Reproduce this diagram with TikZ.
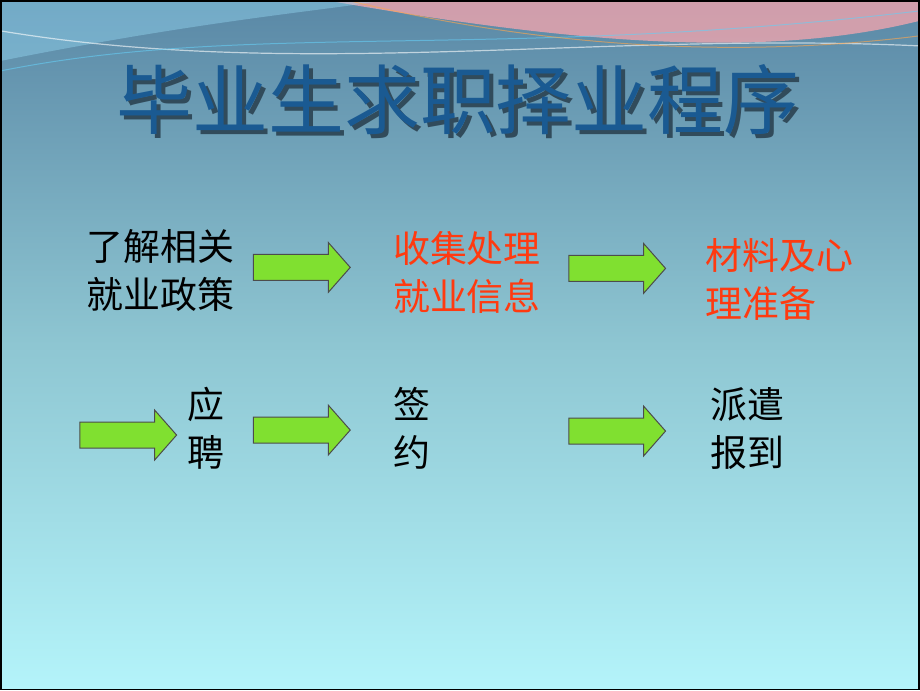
\documentclass[tikz,border=0pt]{standalone}
\usepackage{fontspec}
\newfontfamily\cjk{Noto Sans CJK SC}
\definecolor{titleblue}{HTML}{1A5A92}
\definecolor{steptext}{HTML}{FF3A10}
\definecolor{arrowgreen}{HTML}{80E030}
\definecolor{bgtop}{HTML}{5A88A6}
\definecolor{bgmid}{HTML}{8EC6D2}
\definecolor{bgbot}{HTML}{B4F4FA}
\tikzset{
    Step/.style={font=\cjk\fontsize{37}{48}\selectfont, align=left, inner sep=0pt},
    Red/.style={Step, text=steptext},
    Arrow/.style={draw=black!70, fill=arrowgreen, line width=1pt, line join=miter}
}
\begin{document}
\begin{tikzpicture}[x=1pt, y=-1pt]
            % Background
            \fill[top color=bgtop, bottom color=bgbot, middle color=bgmid] (0,0) rectangle (920,690);
            % Top decoration
            \fill[magenta!55!orange!45, opacity=0.75] (330,0) .. controls (560,40) and (760,60) .. (920,20) -- (920,0) -- cycle;
            \fill[cyan!40, opacity=0.4] (0,0) -- (0,60) .. controls (200,20) and (320,10) .. (380,0) -- cycle;
            \draw[white, opacity=0.6, line width=1.2pt] (0,30) .. controls (300,80) and (600,30) .. (920,45);
            \draw[cyan!60, opacity=0.6, line width=1pt] (0,70) .. controls (250,20) and (500,60) .. (920,10);
            \draw[orange!70, opacity=0.6, line width=1pt] (350,0) .. controls (600,60) and (800,50) .. (920,35);
            \draw[black, line width=2pt] (0,0) rectangle (920,690);
            % Title
            \node[font=\cjk\fontsize{76}{80}\selectfont, text=black!45!bgtop] at (462,103) {毕业生求职择业程序};
            \node[font=\cjk\fontsize{76}{80}\selectfont, text=titleblue] (title) at (458,99) {毕业生求职择业程序};
            % First row
            \node[Step] (policy) at (160,270) {了解相关\\就业政策};
            \node[Red] (info) at (467,272) {收集处理\\就业信息};
            \node[Red] (prep) at (780,279) {材料及心\\理准备};
            \foreach \name/\x/\y in {a1/253/267, a2/569/268, a3/79/435, a4/253/430, a5/569/431}
                \draw[Arrow] (\x,\y) ++(0,-13) coordinate (\name) -- ++(75,0) -- ++(0,-12) -- ++(22,25) -- ++(-22,25) -- ++(0,-12) -- ++(-75,0) -- cycle;
            % Second row
            \node[Step] (apply) at (205,428) {应\\聘};
            \node[Step] (sign) at (412,428) {签\\约};
            \node[Step] (report) at (748,428) {派遣\\报到};
\end{tikzpicture}
\end{document}
